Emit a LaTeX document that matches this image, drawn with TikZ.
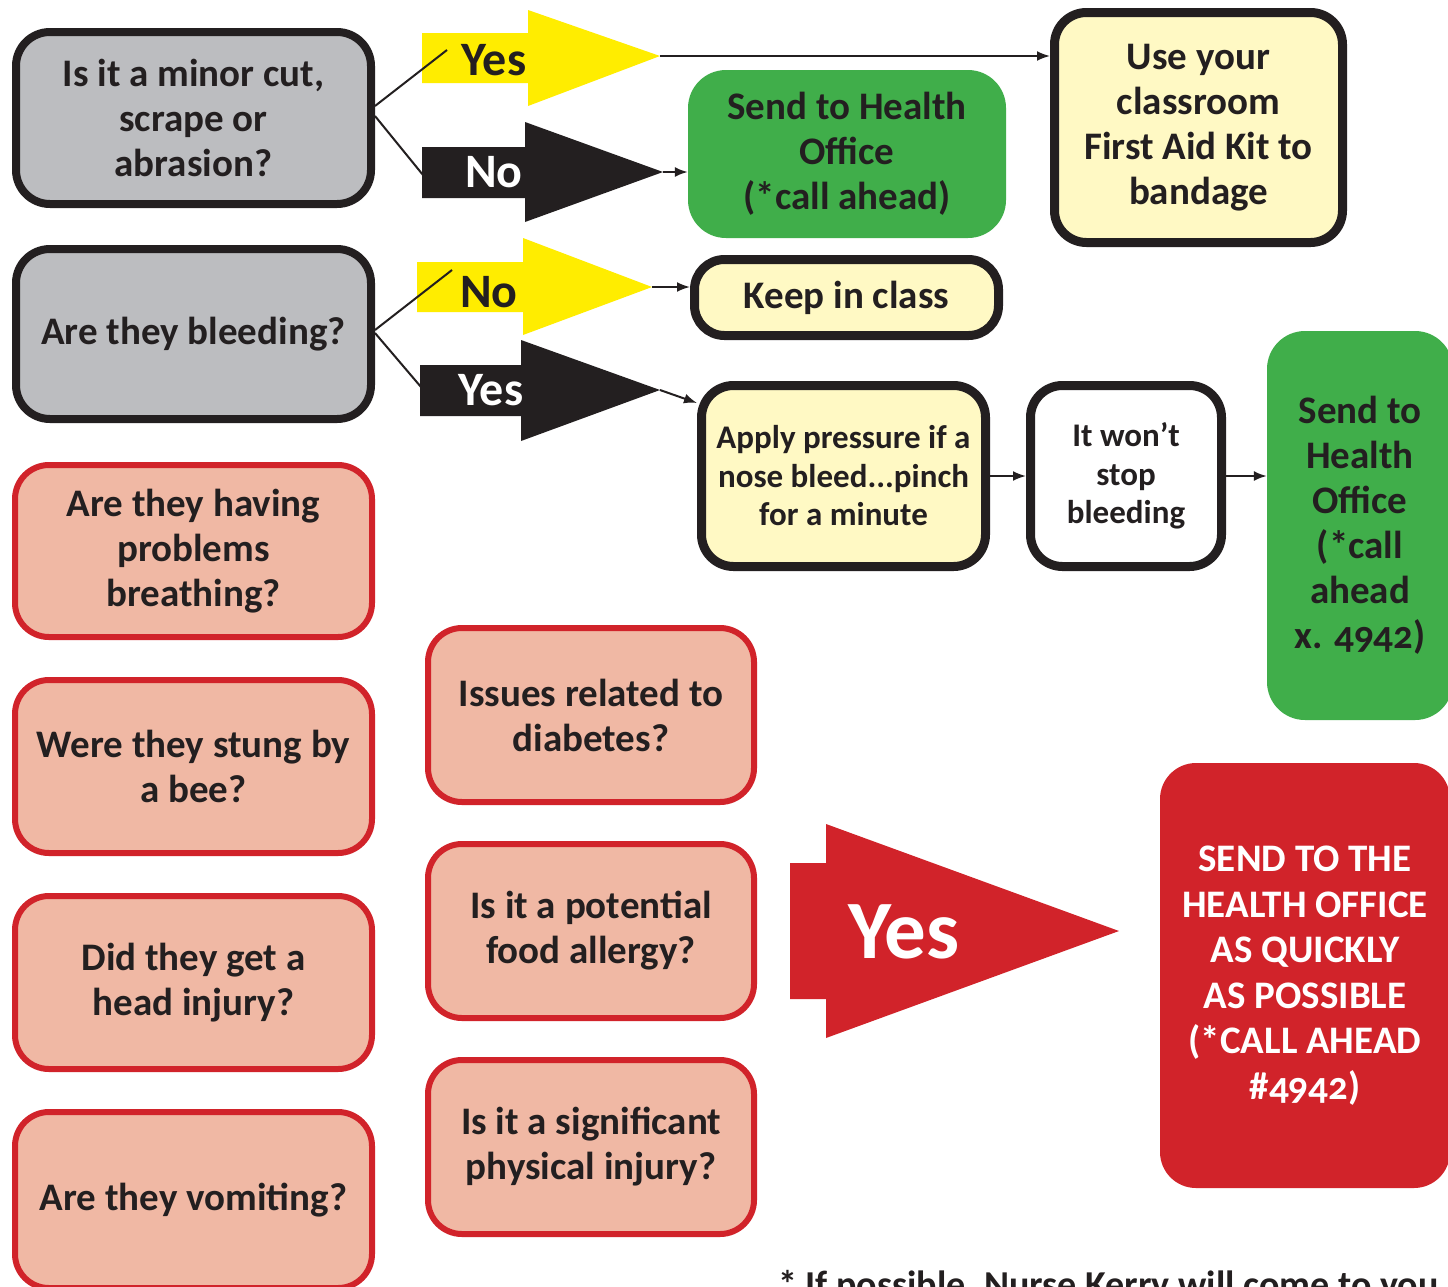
\documentclass[tikz,border=0pt]{standalone}
\usepackage{fontspec}
\setmainfont{Carlito}[Numbers=OldStyle]
\usetikzlibrary{arrows.meta,calc}
\definecolor{ink}{HTML}{231F20}
\definecolor{boxgray}{HTML}{BCBDC0}
\definecolor{pinkfill}{HTML}{F0B8A4}
\definecolor{alertred}{HTML}{D1232A}
\definecolor{okgreen}{HTML}{40AE4A}
\definecolor{paleyellow}{HTML}{FFF9C4}
\definecolor{brightyellow}{HTML}{FFED00}
\tikzset{
  txt/.style={text=ink, font=\bfseries\fontsize{39}{45}\selectfont, align=center, inner sep=0pt},
  smalltxt/.style={text=ink, font=\bfseries\fontsize{33}{38.5}\selectfont, align=center, inner sep=0pt},
  graybox/.style={txt, draw=ink, line width=8pt, fill=boxgray, rounded corners=34pt},
  pinkbox/.style={txt, draw=alertred, line width=6pt, fill=pinkfill, rounded corners=34pt},
  yellowbox/.style={draw=ink, line width=9pt, fill=paleyellow, rounded corners=32pt},
  whitebox/.style={draw=ink, line width=9pt, fill=white, rounded corners=32pt},
  greenbox/.style={txt, fill=okgreen, rounded corners=38pt},
  redbox/.style={text=white, font=\bfseries\fontsize{39}{45.5}\selectfont, align=center, inner sep=0pt, fill=alertred, rounded corners=36pt},
  yelarrow/.style={fill=brightyellow},
  blkarrow/.style={fill=ink},
  arrlabeldark/.style={text=ink, font=\bfseries\fontsize{48}{50}\selectfont, inner sep=0pt},
  arrlabellight/.style={text=white, font=\bfseries\fontsize{48}{50}\selectfont, inner sep=0pt},
  link/.style={draw=ink, line width=2pt},
  arr/.style={link, -{Latex[length=13pt,width=10pt]}},
}
\begin{document}
\begin{tikzpicture}[x=1pt,y=-1pt]
\useasboundingbox (0,0) rectangle (1448,1286);
\clip (0,0) rectangle (1448,1286);
\fill[white] (0,0) rectangle (1448,1286);

% arrow shapes
\fill[yelarrow] (422,33) -- (528,33) -- (528,10) -- (660,56) -- (528,106) -- (528,83) -- (422,83) -- cycle;
\fill[blkarrow] (422,147) -- (525,147) -- (525,122) -- (663,172) -- (525,222) -- (525,198) -- (422,198) -- cycle;
\fill[yelarrow] (417,262) -- (523,262) -- (523,238) -- (652,287) -- (523,335) -- (523,312) -- (417,312) -- cycle;
\fill[blkarrow] (420,365) -- (521,365) -- (521,340) -- (660,390) -- (521,441) -- (521,416) -- (420,416) -- cycle;
\fill[alertred] (790,863) -- (826,863) -- (826,824) -- (1119,931) -- (826,1038) -- (826,999) -- (790,999) -- cycle;

\coordinate (t1) at (660,56);
\coordinate (t2) at (663,172);
\coordinate (t3) at (652,287);
\coordinate (t4) at (660,390);
\coordinate (c1) at (447,50);
\coordinate (c2) at (423,175);
\coordinate (c3) at (452,270);
\coordinate (c4) at (421,387);

\node[arrlabeldark]  (l1) at (494,60)  {Yes};
\node[arrlabellight] (l2) at (494,172) {No};
\node[arrlabeldark]  (l3) at (489,292) {No};
\node[arrlabellight] (l4) at (491,390) {Yes};
\node[text=white, font=\bfseries\fontsize{83}{85}\selectfont, inner sep=0pt] (l5) at (904,932) {Yes};

% question boxes
\node[graybox, minimum width=355pt, minimum height=172pt] (q1) at (193.5,118) {Is it a minor cut,\\scrape or\\abrasion?};
\node[graybox, minimum width=355pt, minimum height=170pt] (q2) at (193.5,334) {Are they bleeding?};
\node[pinkbox, minimum width=357pt, minimum height=172pt] (p1) at (193.5,551) {Are they having\\problems\\breathing?};
\node[pinkbox, minimum width=357pt, minimum height=173pt] (p2) at (193.5,766.5) {Were they stung by\\a bee?};
\node[pinkbox, minimum width=357pt, minimum height=173pt] (p3) at (193.5,982.5) {Did they get a\\head injury?};
\node[pinkbox, minimum width=357pt, minimum height=176pt] (p4) at (193.5,1200) {Are they vomiting?};
\node[pinkbox, minimum width=326pt, minimum height=174pt] (p5) at (591,715) {Issues related to\\diabetes?};
\node[pinkbox, minimum width=326pt, minimum height=174pt] (p6) at (591,931) {Is it a potential\\food allergy?};
\node[pinkbox, minimum width=326pt, minimum height=174pt] (p7) at (591,1147) {Is it a significant\\physical injury?};

% outcome boxes
\node[yellowbox, txt, minimum width=288pt, minimum height=230pt] (y1) at (1198.5,127.5) {Use your\\classroom\\First Aid Kit to\\bandage};
\node[greenbox, minimum width=318pt, minimum height=168pt] (g1) at (847,154) {Send to Health\\Office\\(*call ahead)};
\node[yellowbox, txt, minimum width=304pt, minimum height=76pt, rounded corners=30pt] (k) at (846.5,297.5) {Keep in class};
\node[yellowbox, smalltxt, minimum width=284pt, minimum height=181pt] (a) at (843.5,476) {Apply pressure if a\\nose bleed...pinch\\for a minute};
\node[whitebox, smalltxt, minimum width=191pt, minimum height=181pt] (w) at (1126,476) {It won’t\\stop\\bleeding};
\node[greenbox, minimum width=186pt, minimum height=389pt] (g2) at (1360,525.5) {Send to\\Health\\Office\\(*call\\ahead\\x. 4942)};
\node[redbox, minimum width=290pt, minimum height=425pt] (r) at (1305,975.5) {SEND TO THE\\HEALTH OFFICE\\AS QUICKLY\\AS POSSIBLE\\(*CALL AHEAD\\\#4942)};

% connectors
\draw[link] ([yshift=12pt]q1.east) -- (c1);
\draw[link] ([yshift=2pt]q1.east) -- (c2);
\draw[link] ([yshift=4pt]q2.east) -- (c3);
\draw[link] ([yshift=1pt]q2.east) -- (c4);
\draw[arr] (t1) -- (t1 -| y1.west);
\draw[arr] (t2) -- (t2 -| g1.west);
\draw[arr] (t3) -- (t3 -| k.west);
\draw[arr] (t4) -- ([yshift=73pt]a.west);
\draw[arr] (a.east) -- (w.west);
\draw[arr] (w.east) -- (w.east -| g2.west);

\node[text=ink, font=\bfseries\fontsize{38}{40}\selectfont, anchor=base west, inner sep=0pt] (note) at (778,1297) {* If possible, Nurse Kerry will come to you};
\end{tikzpicture}
\end{document}
